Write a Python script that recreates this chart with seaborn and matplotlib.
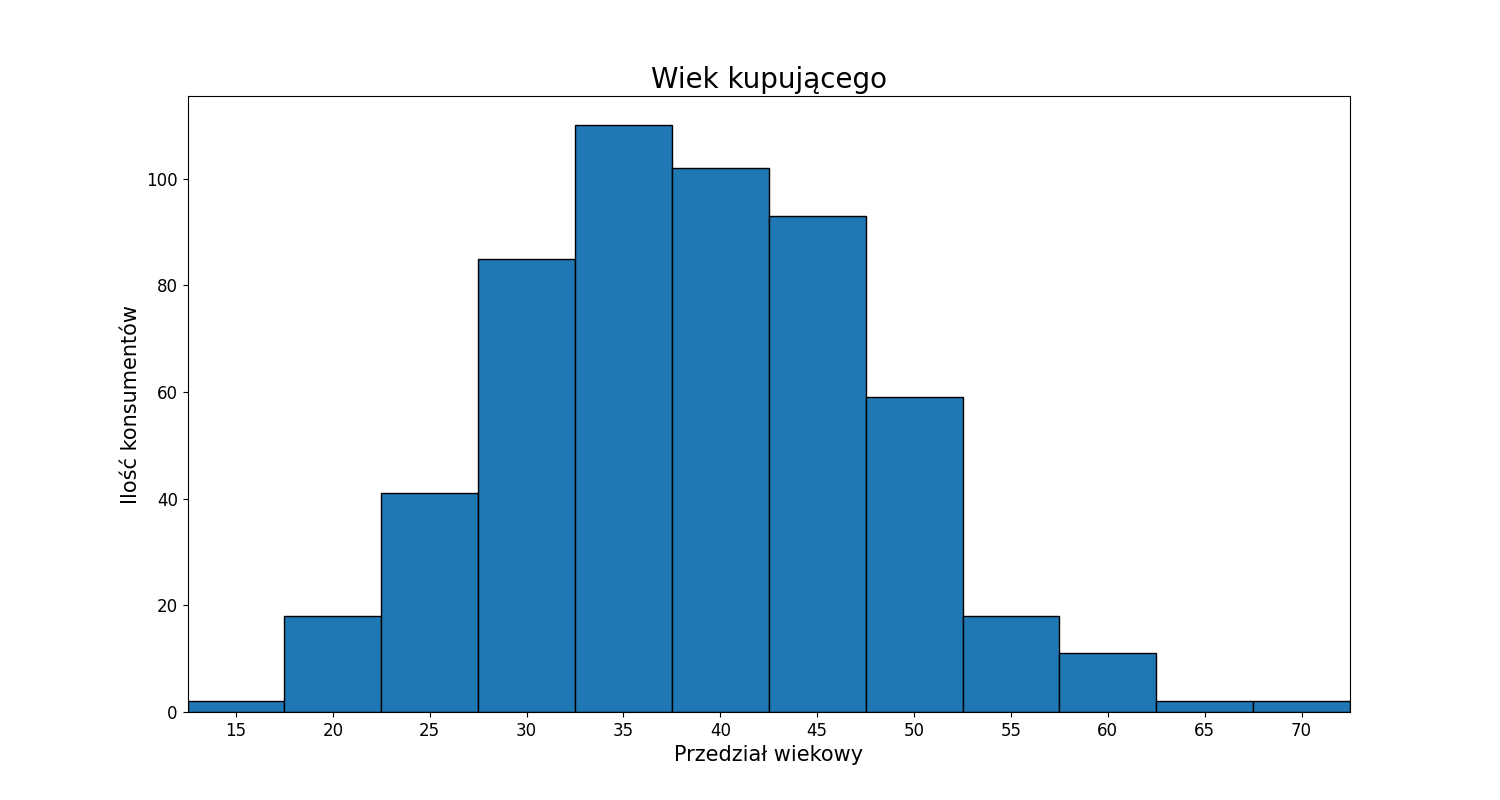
import matplotlib
matplotlib.use("Agg")
import matplotlib.pyplot as plt
import seaborn as sns
import pandas as pd

# bin centres (age) and number of consumers per bin
ages = [15, 20, 25, 30, 35, 40, 45, 50, 55, 60, 65, 70]
counts = [2, 18, 41, 85, 110, 102, 93, 59, 18, 11, 2, 2]
bin_edges = [a - 2.5 for a in ages] + [ages[-1] + 2.5]

df = pd.DataFrame({"age": ages, "count": counts})

fig, ax = plt.subplots(figsize=(15, 8), dpi=100)
sns.histplot(data=df, x="age", weights="count", bins=bin_edges, color="#1f77b4",
             edgecolor="black", alpha=1, linewidth=1, ax=ax)

ax.set_xlim(12.5, 72.5)
ax.set_ylim(0, 115.5)
ax.set_xticks(ages)
ax.tick_params(labelsize=12)
ax.set_title("Wiek kupującego", fontsize=20)
ax.set_xlabel("Przedział wiekowy", fontsize=15)
ax.set_ylabel("Ilość konsumentów", fontsize=15)

plt.savefig("out.png", dpi=100)
